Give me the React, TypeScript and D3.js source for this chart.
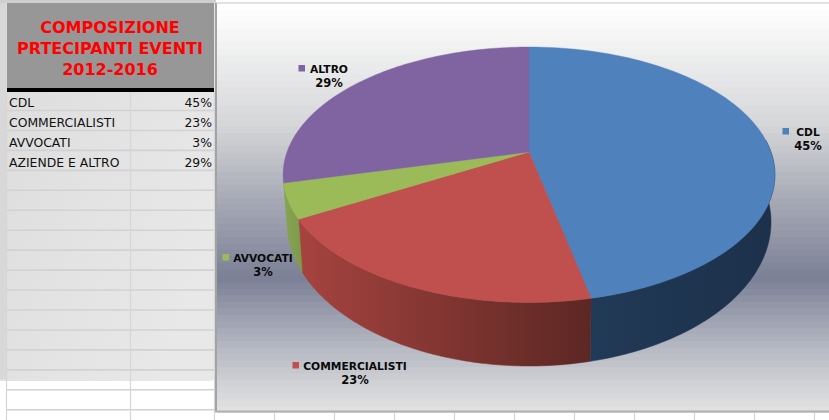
import { useEffect, useRef } from 'react'
import * as d3 from 'd3'

const titleLines = ['COMPOSIZIONE', 'PRTECIPANTI EVENTI', '2012-2016']
const tableLabels = ['CDL', 'COMMERCIALISTI', 'AVVOCATI', 'AZIENDE E ALTRO']
const tableValues = ['45%', '23%', '3%', '29%']
const sliceLabels = ['CDL', 'COMMERCIALISTI', 'AVVOCATI', 'ALTRO']
const sliceValues = ['45%', '23%', '3%', '29%']
// slice sizes as they are drawn in the picture (the 3D view skews them a little from the printed %)
const drawnShares = [46.6, 20.15, 4.4, 28.85]
const topColors = ['#4f81bd', '#c0504d', '#9bbb59', '#8064a2']
const wallLeft = ['#213a57', '#a6433f', '#86a551', '#6b5488']
const wallRight = ['#1c304a', '#5c2723', '#7d9a4b', '#6b5488']
const labelPos = [
  { x: 808, y: 136, mx: 786 },
  { x: 355, y: 370, mx: 296 },
  { x: 263, y: 262, mx: 226 },
  { x: 329, y: 73, mx: 302 },
]

// top face is a tilted disc, so the apex sits above the middle of the ellipse
const apex = { x: 529, y: 152 }
const persp = { a: 242, b: 123.7, k: 0.178 }
const topEll = { cx: 529, cy: 174.75, rx: 246, ry: 127.75 }
const botEll = { cx: 529, cy: 222, rx: 242, ry: 144 }

function rimPoint(theta: number): [number, number] {
  const x = Math.sin(theta)
  const y = -Math.cos(theta)
  const d = 1 - persp.k * y
  return [apex.x + (persp.a * x) / d, apex.y + (persp.b * y) / d]
}

function lowerPoint(theta: number): [number, number] {
  const [x, y] = rimPoint(theta)
  const t = Math.atan2((x - topEll.cx) / topEll.rx, -(y - topEll.cy) / topEll.ry)
  return [botEll.cx + botEll.rx * Math.sin(t), botEll.cy - botEll.ry * Math.cos(t)]
}

export default function App() {
  const svgRef = useRef<SVGSVGElement>(null)

  useEffect(() => {
    if (!svgRef.current) return
    const svg = d3.select(svgRef.current)
    svg.selectAll('*').remove()
    const font = 'DejaVu Sans, Verdana, sans-serif'

    svg.append('rect').attr('width', 829).attr('height', 420).attr('fill', '#ffffff')

    // Grey shadow panel over the table
    const defs = svg.append('defs')
    const panelGrad = defs.append('linearGradient').attr('id', 'panel-grad')
      .attr('x1', 0).attr('y1', 0).attr('x2', 1).attr('y2', 0.6)
    panelGrad.append('stop').attr('offset', '0%').attr('stop-color', '#dcdcdc')
    panelGrad.append('stop').attr('offset', '100%').attr('stop-color', '#e8e8e8')
    svg.append('rect').attr('x', -6).attr('y', -6).attr('width', 222).attr('height', 387).attr('rx', 6)
      .attr('fill', 'url(#panel-grad)')
    svg.append('rect').attr('x', 0).attr('y', 0).attr('width', 6).attr('height', 379).attr('fill', '#d8d8d8')
    svg.append('rect').attr('x', 0).attr('y', 0).attr('width', 216).attr('height', 3).attr('fill', '#cfcfcf')

    // Sheet grid
    const rowYs = d3.range(110.5, 420, 19.95)
    svg.append('g').selectAll('line').data(rowYs).enter().append('line')
      .attr('x1', 6).attr('x2', 215).attr('y1', d => d).attr('y2', d => d)
      .attr('stroke', '#d2d2d2').attr('stroke-width', 1.6)
    svg.append('g').selectAll('line').data([6.5, 130.5, 214.5]).enter().append('line')
      .attr('x1', d => d).attr('x2', d => d).attr('y1', 90).attr('y2', 420)
      .attr('stroke', '#d6d6d6').attr('stroke-width', 1.2)
    svg.append('g').selectAll('line').data(d3.range(274.5, 829, 60)).enter().append('line')
      .attr('x1', d => d).attr('x2', d => d).attr('y1', 410).attr('y2', 420)
      .attr('stroke', '#d6d6d6').attr('stroke-width', 1.2)

    // Title block
    svg.append('rect').attr('x', 7).attr('y', 3).attr('width', 207).attr('height', 85).attr('fill', '#979797')
    svg.append('rect').attr('x', 7).attr('y', 88).attr('width', 207).attr('height', 4).attr('fill', '#000000')
    titleLines.forEach((line, i) => {
      svg.append('text').attr('x', 110).attr('y', 33 + i * 21).attr('text-anchor', 'middle')
        .attr('font-family', font).attr('font-weight', 'bold').attr('font-size', 16)
        .attr('fill', '#ff0000').text(line)
    })

    // Table rows
    tableLabels.forEach((label, i) => {
      const y = 107 + i * 20
      svg.append('text').attr('x', 9).attr('y', y).attr('font-family', font).attr('font-size', 12.4)
        .attr('fill', '#111111').text(label)
      svg.append('text').attr('x', 212).attr('y', y).attr('text-anchor', 'end').attr('font-family', font)
        .attr('font-size', 12.4).attr('fill', '#111111').text(tableValues[i])
    })

    // Chart area background, banded like the picture
    const bg = d3.scaleLinear<string>()
      .domain([3, 30, 120, 200, 275, 340, 385, 412])
      .range(['#ffffff', '#f6f6f6', '#d6d7d9', '#a5a8b4', '#7b8096', '#b2b5c0', '#d3d4d7', '#e5e5e5'])
    const bandH = 6.5
    svg.append('g').selectAll('rect').data(d3.range(3, 410, bandH)).enter().append('rect')
      .attr('x', 217).attr('y', d => d).attr('width', 612).attr('height', bandH + 0.5)
      .attr('fill', d => bg(d))
    svg.append('line').attr('x1', 216).attr('x2', 216).attr('y1', 3).attr('y2', 412)
      .attr('stroke', '#a3a3a3').attr('stroke-width', 2)
    svg.append('line').attr('x1', 215).attr('x2', 829).attr('y1', 411.5).attr('y2', 411.5)
      .attr('stroke', '#b0b0b0').attr('stroke-width', 2)
    svg.append('line').attr('x1', 216).attr('x2', 829).attr('y1', 3).attr('y2', 3)
      .attr('stroke', '#c4c4c4').attr('stroke-width', 1)

    // Pie
    const arcs = d3.pie<number>().sort(null).value(d => d)(drawnShares)
    const line = d3.line()
    const steps = 90

    // Walls: only the slices that face the viewer, the last one is all at the back
    arcs.slice(0, 3).forEach((arc, i) => {
      const start = Math.max(arc.startAngle, Math.PI * 0.47)
      const end = arc.endAngle
      const angles = d3.range(steps + 1).map(j => start + ((end - start) * j) / steps)
      const pts = [...angles.map(rimPoint), ...angles.slice().reverse().map(lowerPoint)]
      const xs = pts.map(p => p[0])
      const gradId = `wall-${i}`
      const grad = defs.append('linearGradient').attr('id', gradId).attr('gradientUnits', 'userSpaceOnUse')
        .attr('x1', d3.min(xs)!).attr('y1', 0).attr('x2', d3.max(xs)!).attr('y2', 0)
      grad.append('stop').attr('offset', '0%').attr('stop-color', wallLeft[i])
      grad.append('stop').attr('offset', '100%').attr('stop-color', wallRight[i])
      svg.append('path').attr('d', line(pts) + 'Z').attr('fill', `url(#${gradId})`)
        .attr('stroke', `url(#${gradId})`).attr('stroke-width', 0.5)
    })

    // Top faces
    arcs.forEach((arc, i) => {
      const angles = d3.range(steps + 1).map(j => arc.startAngle + ((arc.endAngle - arc.startAngle) * j) / steps)
      const pts: [number, number][] = [[apex.x, apex.y], ...angles.map(rimPoint)]
      svg.append('path').attr('d', line(pts) + 'Z').attr('fill', topColors[i])
        .attr('stroke', topColors[i]).attr('stroke-width', 0.4)
    })

    // Data labels
    sliceLabels.forEach((label, i) => {
      const p = labelPos[i]
      svg.append('rect').attr('x', p.mx - 3.5).attr('y', p.y - 8).attr('width', 6.5).attr('height', 6.5)
        .attr('fill', topColors[i])
      svg.append('text').attr('x', p.x).attr('y', p.y).attr('text-anchor', 'middle')
        .attr('font-family', font).attr('font-weight', 'bold').attr('font-size', 10.7)
        .attr('fill', '#0a0a0a').text(label)
      svg.append('text').attr('x', p.x).attr('y', p.y + 14).attr('text-anchor', 'middle')
        .attr('font-family', font).attr('font-weight', 'bold').attr('font-size', 11.5)
        .attr('fill', '#0a0a0a').text(sliceValues[i])
    })
  }, [])

  return <svg ref={svgRef} width={829} height={420} style={{ position: 'fixed', left: 0, top: 0 }} />
}
